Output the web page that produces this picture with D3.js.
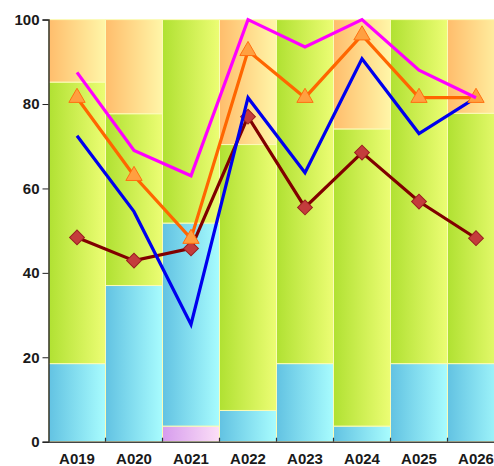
<!DOCTYPE html>
<html>
<head>
<meta charset="utf-8">
<script src="https://cdn.jsdelivr.net/npm/d3@7"></script>
<style>
  body { margin: 0; background: #fff; }
  svg text { font-family: "Liberation Sans", Arial, sans-serif; font-weight: bold; font-size: 15px; fill: #1a1a1a; }
</style>
</head>
<body>
<svg id="chart" width="494" height="466"></svg>
<script>
// categories and stacked bar segments (percent)
var categories = ["A019", "A020", "A021", "A022", "A023", "A024", "A025", "A026"];
var purpleVals = [0, 0, 3.7, 0, 0, 0, 0, 0];
var cyanVals   = [18.5, 37.0, 48.1, 7.4, 18.5, 3.7, 18.5, 18.5];
var greenVals  = [66.7, 40.7, 48.2, 63.0, 81.5, 70.4, 81.5, 59.3];
var orangeVals = [14.8, 22.3, 0, 29.6, 0, 25.9, 0, 22.2];

// line series
var magentaVals = [87.5, 69, 63, 100, 93.5, 100, 88, 81.5];
var orangeLine  = [81.5, 63, 48.1, 92.6, 81.5, 96.3, 81.5, 81.5];
var blueVals    = [72.5, 54.5, 27.8, 81.5, 63.7, 90.7, 73, 81.5];
var redVals     = [48.4, 42.9, 45.8, 77, 55.5, 68.5, 56.9, 48.2];
var yTicks = [0, 20, 40, 60, 80, 100];

var svg = d3.select("#chart");
var plotLeft = 48.5, bw = 57, plotTop = 19.6, plotBottom = 441.7;

var x = d3.scaleBand().domain(categories).range([plotLeft, plotLeft + bw * categories.length]).padding(0);
var y = d3.scaleLinear().domain([0, 100]).range([plotBottom, plotTop]);

// gradients
var defs = svg.append("defs");
var grads = {
  purple: ["#d69ced", "#fcdff7"],
  cyan: ["#62c2e2", "#a8fcfe"],
  green: ["#b0e132", "#ecfd74"],
  orange: ["#ffbd6c", "#fff6a8"]
};
Object.keys(grads).forEach(function(k) {
  var g = defs.append("linearGradient").attr("id", "g-" + k)
    .attr("x1", "0%").attr("x2", "100%").attr("y1", "0%").attr("y2", "0%");
  g.append("stop").attr("offset", "0%").attr("stop-color", grads[k][0]);
  g.append("stop").attr("offset", "100%").attr("stop-color", grads[k][1]);
});

// stacked bars
var rows = categories.map(function(c, i) {
  return { cat: c, purple: purpleVals[i], cyan: cyanVals[i], green: greenVals[i], orange: orangeVals[i] };
});
var keys = ["purple", "cyan", "green", "orange"];
var stack = d3.stack().keys(keys)(rows);

stack.forEach(function(layer) {
  svg.append("g").selectAll("rect")
    .data(layer.filter(function(d) { return d[1] - d[0] > 0; }))
    .enter().append("rect")
    .attr("x", function(d) { return x(d.data.cat); })
    .attr("width", x.bandwidth())
    .attr("y", function(d) { return y(d[1]); })
    .attr("height", function(d) { return y(d[0]) - y(d[1]); })
    .attr("fill", "url(#g-" + layer.key + ")")
    .attr("stroke", "#fbfbb8")
    .attr("stroke-width", 1);
});

// axes
var yAxis = svg.append("g").attr("transform", "translate(" + plotLeft + ",0)")
  .call(d3.axisLeft(y).tickValues(yTicks).tickSize(6).tickPadding(3));
yAxis.select(".domain").attr("stroke", "#333").attr("stroke-width", 1.5);
yAxis.selectAll(".tick line").attr("stroke", "#222");
yAxis.selectAll("text").attr("font-size", null).attr("font-family", null);

var xAxis = svg.append("g").attr("transform", "translate(0," + plotBottom + ")")
  .call(d3.axisBottom(x).tickSize(0).tickPadding(12));
xAxis.select(".domain").attr("stroke", "#444").attr("stroke-width", 1.5);
xAxis.selectAll("text").attr("font-size", null).attr("font-family", null);
// small ticks at band boundaries
svg.append("g").selectAll("line")
  .data(categories.slice(1))
  .enter().append("line")
  .attr("x1", function(d) { return x(d); }).attr("x2", function(d) { return x(d); })
  .attr("y1", plotBottom).attr("y2", plotBottom - 4)
  .attr("stroke", "#333").attr("stroke-width", 1.2);

// lines
var cx = function(d, i) { return x(categories[i]) + x.bandwidth() / 2; };
function drawLine(vals, color) {
  var line = d3.line().x(function(d, i) { return cx(d, i); }).y(function(d) { return y(d); });
  svg.append("path").attr("d", line(vals))
    .attr("fill", "none").attr("stroke", color).attr("stroke-width", 3.2)
    .attr("stroke-linejoin", "miter");
}

drawLine(redVals, "#800000");
svg.append("g").selectAll("path")
  .data(redVals).enter().append("path")
  .attr("d", d3.symbol().type(d3.symbolSquare).size(110))
  .attr("transform", function(d, i) { return "translate(" + cx(d, i) + "," + y(d) + ") rotate(45)"; })
  .attr("fill", "#c43c3c").attr("stroke", "#9a2020").attr("stroke-width", 1);

drawLine(blueVals, "#0000ee");

drawLine(orangeLine, "#ff6600");
svg.append("g").selectAll("path")
  .data(orangeLine).enter().append("path")
  .attr("d", d3.symbol().type(d3.symbolTriangle).size(115))
  .attr("transform", function(d, i) { return "translate(" + cx(d, i) + "," + y(d) + ")"; })
  .attr("fill", "#ffa040").attr("stroke", "#ff7010").attr("stroke-width", 1);

drawLine(magentaVals, "#ff00ff");
</script>
</body>
</html>
